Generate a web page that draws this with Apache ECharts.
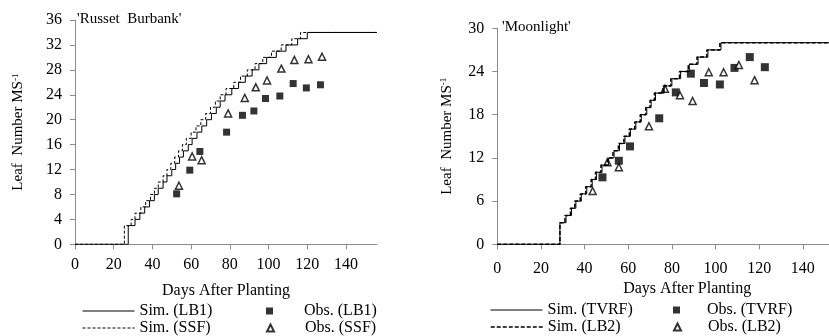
<!DOCTYPE html>
<html>
<head>
<meta charset="utf-8">
<script src="https://cdn.jsdelivr.net/npm/echarts@6/dist/echarts.min.js"></script>
</head>
<body style="margin:0">
<div id="main" style="width:829px;height:336px;"></div>
<script>
// 'Russet Burbank' - observed [day, leaf number]
var rbObsLB1 = [[52.5, 8.1], [59.3, 11.9], [64.5, 14.9], [78.3, 18.0], [86.5, 20.7], [92.4, 21.4],
  [98.4, 23.4], [105.8, 23.8], [112.7, 25.8], [119.5, 25.1], [126.8, 25.6]];
var rbObsSSF = [[53.7, 9.4], [60.5, 14.1], [65.4, 13.5], [79.1, 21.0], [87.7, 23.5], [93.4, 25.2],
  [99.2, 26.3], [106.6, 28.2], [113.3, 29.6], [120.6, 29.7], [127.6, 30.1]];
// simulated: day at which each leaf appears
var rbSimLB1 = [[0, 0], [27.5, 3], [31, 4], [33.5, 5], [36, 6], [38.5, 7], [41, 8], [43, 9], [45.5, 10],
  [47.5, 11], [50, 12], [52, 13], [54, 14], [56, 15], [58.5, 16], [60.5, 17], [63, 18], [65.5, 19],
  [68, 20], [70.5, 21], [73, 22], [75, 23], [77.5, 24], [81, 25], [84.5, 26], [88, 27], [91.5, 28],
  [95, 29], [99, 30], [104, 31], [109, 32], [115, 33], [120, 34], [156, 34]];
var rbSimSSF = [[0, 0], [25.5, 3], [29, 4], [31, 5], [34, 6], [36.5, 7], [39, 8], [41, 9], [43, 10],
  [45.5, 11], [47.5, 12], [49.5, 13], [51.5, 14], [53.5, 15], [55.5, 16], [57.5, 17], [60, 18],
  [62.5, 19], [65, 20], [67.5, 21], [70, 22], [72.5, 23], [75, 24], [78, 25], [82, 26], [85.5, 27],
  [89, 28], [93, 29], [97, 30], [101.5, 31], [106.5, 32], [112, 33], [116.5, 34], [156, 34]];

// 'Moonlight'
var mlObsTVRF = [[48.2, 9.3], [55.7, 11.6], [60.8, 13.6], [74.2, 17.5], [81.8, 21.1], [88.7, 23.7],
  [94.7, 22.4], [102, 22.2], [108.7, 24.5], [115.7, 26.0], [122.6, 24.6]];
var mlObsLB2 = [[43.7, 7.4], [50.5, 11.4], [55.7, 10.7], [69.5, 16.4], [76.8, 21.6], [83.7, 20.7],
  [89.5, 19.9], [96.9, 23.9], [103.7, 23.9], [110.7, 24.9], [117.9, 22.8]];
var mlSimTVRF = [[0, 0], [28.7, 3], [31.5, 4], [34, 5], [36, 6], [38.5, 7], [41, 8], [43.5, 9], [45.5, 10],
  [48, 11], [51, 12], [53.5, 13], [56, 14], [58.5, 15], [61, 16], [63.5, 17], [66, 18], [68.5, 19],
  [70.5, 20], [72.5, 21], [76.5, 22], [80, 23], [84, 24], [88, 25], [92, 26], [96.5, 27], [102.5, 28], [152, 28]];
var mlSimLB2 = [[0, 0], [28.7, 3], [31, 4], [33.5, 5], [35.5, 6], [38, 7], [40.5, 8], [43, 9], [45, 10],
  [47.5, 11], [50.5, 12], [53, 13], [55.5, 14], [58, 15], [60.5, 16], [63, 17], [65.5, 18], [68, 19],
  [70, 20], [72, 21], [76, 22], [79.5, 23], [83.5, 24], [87.5, 25], [91.5, 26], [96, 27], [102, 28], [152, 28]];

var font = 'Liberation Serif';
var gray = '#8a8a8a';

function xAx(grid, max, labelMargin, nameGap, namePad) {
  return {
    gridIndex: grid, type: 'value', min: 0, max: max, interval: 20,
    name: 'Days After Planting', nameLocation: 'middle', nameGap: nameGap,
    nameTextStyle: { fontFamily: font, fontSize: 16, color: '#000', padding: namePad },
    axisLine: { lineStyle: { color: gray } },
    axisTick: { lineStyle: { color: gray } },
    axisLabel: { color: '#000', fontFamily: font, fontSize: 16, margin: labelMargin, showMaxLabel: false,
      formatter: function (v) { return v % 20 === 0 ? v : ''; } },
    splitLine: { show: false }
  };
}
function yAx(grid, max, interval, nameGap) {
  return {
    gridIndex: grid, type: 'value', min: 0, max: max, interval: interval,
    name: 'Leaf  Number MS{s|-1}', nameLocation: 'middle', nameGap: nameGap, nameRotate: 90,
    nameTextStyle: { fontFamily: font, fontSize: 15, color: '#000',
      rich: { s: { fontFamily: font, fontSize: 9, color: '#000', verticalAlign: 'top', padding: [0, 0, 6, 0] } } },
    axisLine: { show: true, lineStyle: { color: gray } },
    axisTick: { show: true, lineStyle: { color: gray } },
    axisLabel: { color: '#000', fontFamily: font, fontSize: 16, margin: 13 },
    splitLine: { show: false }
  };
}
function sim(name, idx, data, dashed, width) {
  return {
    name: name, type: 'line', xAxisIndex: idx, yAxisIndex: idx, data: data, step: 'end',
    symbol: 'none', animation: false,
    lineStyle: { color: '#000', width: width, type: dashed ? dashed : 'solid' },
    itemStyle: { color: '#000' }
  };
}
function obs(name, idx, data, tri, size) {
  return {
    name: name, type: 'scatter', xAxisIndex: idx, yAxisIndex: idx, data: data,
    symbol: tri ? 'triangle' : 'rect', symbolSize: size, animation: false,
    itemStyle: tri ? { color: '#fff', borderColor: '#000', borderWidth: 1.5 } : { color: '#000' }
  };
}
function leg(name, left, top, w, h, pad, lineW) {
  var l = {
    data: [name], left: left, top: top, itemWidth: w, itemHeight: h, itemGap: 0, padding: 0,
    selectedMode: false,
    textStyle: { fontFamily: font, fontSize: 16, color: '#000', padding: [0, 0, 0, pad] }
  };
  if (lineW) {
    l.itemStyle = { opacity: 0 };
    l.lineStyle = { width: lineW };
  }
  return l;
}

var chart = echarts.init(document.getElementById('main'));
chart.setOption({
  backgroundColor: '#fff',
  title: [
    { text: "'Russet  Burbank'", left: 77, top: 12, padding: 0,
      textStyle: { fontFamily: font, fontSize: 15, fontWeight: 'normal', color: '#000' } },
    { text: "'Moonlight'", left: 502, top: 20, padding: 0,
      textStyle: { fontFamily: font, fontSize: 15, fontWeight: 'normal', color: '#000' } }
  ],
  grid: [
    { left: 75, top: 20, width: 302, height: 224.3 },
    { left: 497.3, top: 28.3, width: 331.7, height: 216 }
  ],
  xAxis: [xAx(0, 156, 12, 38, 0), xAx(1, 152, 16, 34, [0, 0, 0, 48])],
  yAxis: [yAx(0, 36, 4, 49), yAx(1, 30, 6, 43)],
  legend: [
    leg('Sim. (LB1)', 82, 303, 52, 14, 0, 1),
    leg('Sim. (SSF)', 82, 320, 52, 14, 0, 1),
    leg('Obs. (LB1)', 266, 303, 7, 7, 26),
    leg('Obs. (SSF)', 266, 320, 7, 7, 26),
    leg('Sim. (TVRF)', 490, 302, 52, 14, 0, 1),
    leg('Sim. (LB2)', 490, 319, 52, 14, 0, 1.5),
    leg('Obs. (TVRF)', 673, 302, 7, 7, 22),
    leg('Obs. (LB2)', 673, 319, 7, 7, 22)
  ],
  series: [
    sim('Sim. (LB1)', 0, rbSimLB1, null, 1),
    sim('Sim. (SSF)', 0, rbSimSSF, [3, 2], 1),
    obs('Obs. (LB1)', 0, rbObsLB1, false, 7),
    obs('Obs. (SSF)', 0, rbObsSSF, true, 7),
    sim('Sim. (TVRF)', 1, mlSimTVRF, null, 1),
    sim('Sim. (LB2)', 1, mlSimLB2, [4, 2], 1.5),
    obs('Obs. (TVRF)', 1, mlObsTVRF, false, 8),
    obs('Obs. (LB2)', 1, mlObsLB2, true, 7)
  ]
});
</script>
</body>
</html>
